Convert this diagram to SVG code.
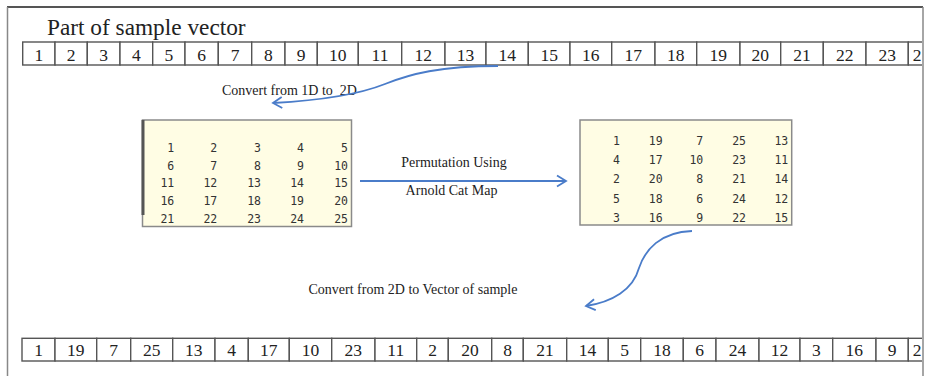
<svg xmlns="http://www.w3.org/2000/svg" width="925" height="376" viewBox="0 0 925 376">
<style>
.serif{font-family:"Liberation Serif","Times New Roman",serif;fill:#222}
.cell{fill:#fff;stroke:#555;stroke-width:1.4}
.num{font-size:17.5px;text-anchor:middle}
.lbl{font-size:14px}
.mat{font-family:"DejaVu Sans Mono","Liberation Mono",monospace;font-size:11.5px;fill:#333;text-anchor:end}
.box{fill:#fffde4;stroke:#8a8a8a;stroke-width:1.5}
.conn{fill:none;stroke:#4a7cc9;stroke-width:1.8}
</style>
<defs>
<marker id="ah" markerUnits="userSpaceOnUse" markerWidth="14" markerHeight="14" viewBox="0 0 14 14" refX="11" refY="7" orient="auto">
<path d="M2,1.5 L11,7 L2,12.5" fill="none" stroke="#4a7cc9" stroke-width="1.8"/>
</marker>
<clipPath id="clip"><rect x="0" y="0" width="922" height="376"/></clipPath>
</defs>
<rect x="0" y="0" width="925" height="376" fill="#fff"/>
<g id="frame">
<line x1="7" y1="7" x2="923" y2="7" stroke="#555" stroke-width="1.8"/>
<line x1="7.5" y1="7" x2="7.5" y2="376" stroke="#888" stroke-width="1.5"/>
<line x1="923" y1="7" x2="923" y2="376" stroke="#888" stroke-width="1.5"/>
</g>
<g id="title"><text class="serif" x="47" y="35" font-size="23.3">Part of sample vector</text></g>
<g id="vector-top">
<g clip-path="url(#clip)">
<rect class="cell" x="22.7" y="42" width="32.3" height="23"/>
<rect class="cell" x="55" y="42" width="32.3" height="23"/>
<rect class="cell" x="87.3" y="42" width="32.7" height="23"/>
<rect class="cell" x="120" y="42" width="32.7" height="23"/>
<rect class="cell" x="152.7" y="42" width="32.3" height="23"/>
<rect class="cell" x="185" y="42" width="33.3" height="23"/>
<rect class="cell" x="218.3" y="42" width="33.4" height="23"/>
<rect class="cell" x="251.7" y="42" width="33.3" height="23"/>
<rect class="cell" x="285" y="42" width="32.3" height="23"/>
<rect class="cell" x="317.3" y="42" width="41" height="23"/>
<rect class="cell" x="358.3" y="42" width="43.4" height="23"/>
<rect class="cell" x="401.7" y="42" width="43.3" height="23"/>
<rect class="cell" x="445" y="42" width="41" height="23"/>
<rect class="cell" x="486" y="42" width="42.3" height="23"/>
<rect class="cell" x="528.3" y="42" width="41.7" height="23"/>
<rect class="cell" x="570" y="42" width="41.7" height="23"/>
<rect class="cell" x="611.7" y="42" width="43.3" height="23"/>
<rect class="cell" x="655" y="42" width="41.7" height="23"/>
<rect class="cell" x="696.7" y="42" width="43.3" height="23"/>
<rect class="cell" x="740" y="42" width="40.7" height="23"/>
<rect class="cell" x="780.7" y="42" width="42.6" height="23"/>
<rect class="cell" x="823.3" y="42" width="42.7" height="23"/>
<rect class="cell" x="866" y="42" width="42.3" height="23"/>
<rect class="cell" x="908.3" y="42" width="40" height="23"/>
</g>
<g class="serif num">
<text x="38.8" y="60.5">1</text><text x="71.2" y="60.5">2</text><text x="103.6" y="60.5">3</text><text x="136.3" y="60.5">4</text><text x="168.8" y="60.5">5</text><text x="201.7" y="60.5">6</text><text x="235" y="60.5">7</text><text x="268.3" y="60.5">8</text><text x="301.2" y="60.5">9</text><text x="337.8" y="60.5">10</text><text x="380" y="60.5">11</text><text x="423.3" y="60.5">12</text><text x="465.5" y="60.5">13</text><text x="507.2" y="60.5">14</text><text x="549.2" y="60.5">15</text><text x="590.8" y="60.5">16</text><text x="633.3" y="60.5">17</text><text x="675.8" y="60.5">18</text><text x="718.3" y="60.5">19</text><text x="760.3" y="60.5">20</text><text x="802" y="60.5">21</text><text x="844.7" y="60.5">22</text><text x="887.2" y="60.5">23</text><text x="917" y="60.5">2</text>
</g>
</g>
<g id="label-1d2d"><text class="serif lbl" x="222" y="95" style="white-space:pre" xml:space="preserve">Convert from 1D to  2D</text></g>
<g id="matrix-left">
<rect class="box" x="142.5" y="120" width="209" height="106.5"/>
<line x1="143" y1="120" x2="143" y2="215" stroke="#555" stroke-width="3"/>
<g class="mat">
<text x="174.3" y="151.7">1</text><text x="217.3" y="151.7">2</text><text x="261" y="151.7">3</text><text x="304" y="151.7">4</text><text x="348" y="151.7">5</text>
<text x="174.3" y="169.5">6</text><text x="217.3" y="169.5">7</text><text x="261" y="169.5">8</text><text x="304" y="169.5">9</text><text x="348" y="169.5">10</text>
<text x="174.3" y="187.4">11</text><text x="217.3" y="187.4">12</text><text x="261" y="187.4">13</text><text x="304" y="187.4">14</text><text x="348" y="187.4">15</text>
<text x="174.3" y="205.3">16</text><text x="217.3" y="205.3">17</text><text x="261" y="205.3">18</text><text x="304" y="205.3">19</text><text x="348" y="205.3">20</text>
<text x="174.3" y="223.3">21</text><text x="217.3" y="223.3">22</text><text x="261" y="223.3">23</text><text x="304" y="223.3">24</text><text x="348" y="223.3">25</text>
</g>
</g>
<g id="label-perm">
<text class="serif lbl" x="454" y="166.5" text-anchor="middle">Permutation Using</text>
<text class="serif lbl" x="451.5" y="195" text-anchor="middle">Arnold Cat Map</text>
</g>
<g id="matrix-right">
<rect class="box" x="580" y="120" width="211.7" height="105"/>
<g class="mat">
<text x="620" y="145">1</text><text x="662.7" y="145">19</text><text x="703.3" y="145">7</text><text x="746" y="145">25</text><text x="788.3" y="145">13</text>
<text x="620" y="164">4</text><text x="662.7" y="164">17</text><text x="703.3" y="164">10</text><text x="746" y="164">23</text><text x="788.3" y="164">11</text>
<text x="620" y="183.3">2</text><text x="662.7" y="183.3">20</text><text x="703.3" y="183.3">8</text><text x="746" y="183.3">21</text><text x="788.3" y="183.3">14</text>
<text x="620" y="202.7">5</text><text x="662.7" y="202.7">18</text><text x="703.3" y="202.7">6</text><text x="746" y="202.7">24</text><text x="788.3" y="202.7">12</text>
<text x="620" y="221.7">3</text><text x="662.7" y="221.7">16</text><text x="703.3" y="221.7">9</text><text x="746" y="221.7">22</text><text x="788.3" y="221.7">15</text>
</g>
</g>
<g id="label-2dvec"><text class="serif lbl" x="308.5" y="294">Convert from 2D to Vector of sample</text></g>
<g id="vector-bottom">
<g clip-path="url(#clip)">
<rect class="cell" x="22" y="338.3" width="33" height="22.7"/>
<rect class="cell" x="55" y="338.3" width="41.7" height="22.7"/>
<rect class="cell" x="96.7" y="338.3" width="34" height="22.7"/>
<rect class="cell" x="130.7" y="338.3" width="42" height="22.7"/>
<rect class="cell" x="172.7" y="338.3" width="42.3" height="22.7"/>
<rect class="cell" x="215" y="338.3" width="33.3" height="22.7"/>
<rect class="cell" x="248.3" y="338.3" width="41" height="22.7"/>
<rect class="cell" x="289.3" y="338.3" width="42.4" height="22.7"/>
<rect class="cell" x="331.7" y="338.3" width="43.3" height="22.7"/>
<rect class="cell" x="375" y="338.3" width="41.7" height="22.7"/>
<rect class="cell" x="416.7" y="338.3" width="31.6" height="22.7"/>
<rect class="cell" x="448.3" y="338.3" width="43.4" height="22.7"/>
<rect class="cell" x="491.7" y="338.3" width="31.6" height="22.7"/>
<rect class="cell" x="523.3" y="338.3" width="43.4" height="22.7"/>
<rect class="cell" x="566.7" y="338.3" width="41.6" height="22.7"/>
<rect class="cell" x="608.3" y="338.3" width="32.4" height="22.7"/>
<rect class="cell" x="640.7" y="338.3" width="42.6" height="22.7"/>
<rect class="cell" x="683.3" y="338.3" width="32.7" height="22.7"/>
<rect class="cell" x="716" y="338.3" width="43" height="22.7"/>
<rect class="cell" x="759" y="338.3" width="41" height="22.7"/>
<rect class="cell" x="800" y="338.3" width="32.7" height="22.7"/>
<rect class="cell" x="832.7" y="338.3" width="43.3" height="22.7"/>
<rect class="cell" x="876" y="338.3" width="32.3" height="22.7"/>
<rect class="cell" x="908.3" y="338.3" width="40" height="22.7"/>
</g>
<g class="serif num">
<text x="38.5" y="355.5">1</text><text x="75.8" y="355.5">19</text><text x="113.7" y="355.5">7</text><text x="151.7" y="355.5">25</text><text x="193.8" y="355.5">13</text><text x="231.7" y="355.5">4</text><text x="268.8" y="355.5">17</text><text x="310.5" y="355.5">10</text><text x="353.3" y="355.5">23</text><text x="395.8" y="355.5">11</text><text x="432.5" y="355.5">2</text><text x="470" y="355.5">20</text><text x="507.5" y="355.5">8</text><text x="545" y="355.5">21</text><text x="587.5" y="355.5">14</text><text x="624.5" y="355.5">5</text><text x="662" y="355.5">18</text><text x="699.7" y="355.5">6</text><text x="737.5" y="355.5">24</text><text x="779.5" y="355.5">12</text><text x="816.3" y="355.5">3</text><text x="854.3" y="355.5">16</text><text x="892.2" y="355.5">9</text><text x="917" y="355.5">2</text>
</g>
</g>
<g id="connectors">
<path class="conn" d="M 498 66 C 440 66 410 74 385 84 C 355 96 310 101 273 103" marker-end="url(#ah)"/>
<path class="conn" d="M 360 181 L 566 181" marker-end="url(#ah)"/>
<path class="conn" d="M 692 231 C 660 232 645 250 639 268 C 633 290 612 302 586 306" marker-end="url(#ah)"/>
</g>
</svg>
